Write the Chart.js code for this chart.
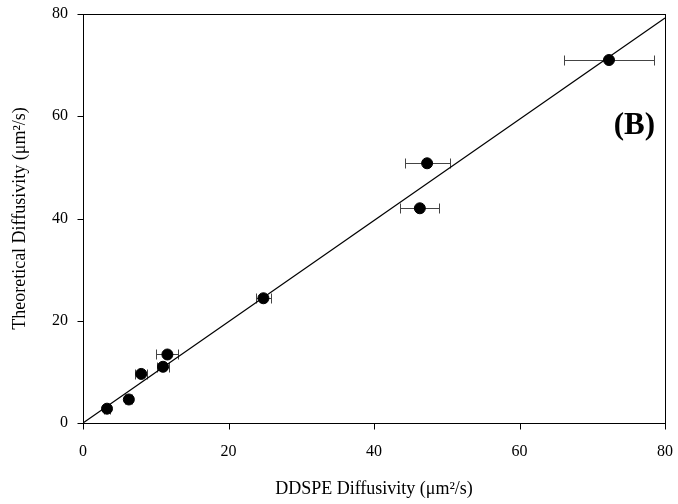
<!DOCTYPE html>
<html>
<head>
<meta charset="utf-8">
<script src="https://cdn.jsdelivr.net/npm/chart.js@4.4.0/dist/chart.umd.min.js"></script>
<style>
    html, body { margin: 0; padding: 0; background: #fff; }
    #wrap { width: 678px; height: 504px; }
</style>
</head>
<body>
<div id="wrap"><canvas id="diffChart" width="678" height="504"></canvas></div>
<script>
// Measured vs. predicted diffusivity (um^2/s)
const ddspeX = [3.3, 6.3, 8.0, 11.0, 11.6, 24.8, 46.3, 47.3, 72.3];
const theoryY = [2.8, 4.6, 9.6, 11.0, 13.4, 24.4, 42.0, 50.8, 71.0];
const ddspeErr = [0.4, 0.5, 0.8, 0.8, 1.5, 1.0, 2.7, 3.1, 6.2];

// Regression line end points
const fitX = [0, 80];
const fitY = [0, 79.2];

const axisTicks = [0, 20, 40, 60, 80];

const serif = "'Liberation Serif', 'Times New Roman', serif";

// horizontal error bars, drawn under the markers
const errorBars = {
    id: 'errorBars',
    beforeDatasetsDraw(chart) {
        const { ctx, scales: { x, y } } = chart;
        ctx.save();
        ctx.strokeStyle = '#444';
        ctx.lineWidth = 1;
        ddspeX.forEach((v, i) => {
            const x0 = Math.round(x.getPixelForValue(v - ddspeErr[i])) + 0.5;
            const x1 = Math.round(x.getPixelForValue(v + ddspeErr[i])) + 0.5;
            const py = Math.round(y.getPixelForValue(theoryY[i])) + 0.5;
            ctx.beginPath();
            ctx.moveTo(x0, py); ctx.lineTo(x1, py);
            ctx.moveTo(x0, py - 5); ctx.lineTo(x0, py + 5);
            ctx.moveTo(x1, py - 5); ctx.lineTo(x1, py + 5);
            ctx.stroke();
        });
        ctx.restore();
    }
};

// box round the plot, outward tick marks and the panel letter
const frame = {
    id: 'frame',
    afterDraw(chart) {
        const { ctx, chartArea: a, scales: { x, y } } = chart;
        const l = Math.round(a.left) + 0.5, t = Math.round(a.top) + 0.5;
        const r = Math.round(a.right) + 0.5, b = Math.round(a.bottom) + 0.5;
        ctx.save();
        ctx.strokeStyle = '#000';
        ctx.lineWidth = 1;
        ctx.strokeRect(l, t, r - l, b - t);
        ctx.beginPath();
        axisTicks.forEach(v => {
            const px = Math.round(x.getPixelForValue(v)) + 0.5;
            ctx.moveTo(px, b); ctx.lineTo(px, b + 6);
            const py = Math.round(y.getPixelForValue(v)) + 0.5;
            ctx.moveTo(l, py); ctx.lineTo(l - 6, py);
        });
        ctx.stroke();
        ctx.fillStyle = '#000';
        ctx.font = 'bold 31px ' + serif;
        ctx.textAlign = 'right';
        ctx.textBaseline = 'middle';
        ctx.fillText('(B)', a.right - 10, 126);
        ctx.restore();
    }
};

// keep label overflow from shifting the plot area
const noOverflow = s => {
    s.paddingTop = 0; s.paddingBottom = 0;
    s.paddingLeft = 0; s.paddingRight = 0;
};

new Chart(document.getElementById('diffChart'), {
    type: 'scatter',
    data: {
        datasets: [
            {
                type: 'line',
                data: fitX.map((v, i) => ({ x: v, y: fitY[i] })),
                borderColor: '#000',
                borderWidth: 1.2,
                pointRadius: 0,
                fill: false
            },
            {
                data: ddspeX.map((v, i) => ({ x: v, y: theoryY[i] })),
                backgroundColor: '#000',
                borderColor: '#000',
                pointRadius: 5.5,
                pointHoverRadius: 5.5
            }
        ]
    },
    options: {
        responsive: false,
        animation: false,
        events: [],
        layout: { padding: { left: 0, top: 14, right: 13, bottom: 0 } },
        plugins: { legend: { display: false }, tooltip: { enabled: false } },
        scales: {
            x: {
                type: 'linear',
                min: 0, max: 80,
                afterBuildTicks: s => { s.ticks = axisTicks.map(v => ({ value: v })); },
                afterFit: s => { s.height = 81; noOverflow(s); },
                border: { display: false },
                grid: { display: false },
                ticks: { color: '#000', font: { family: serif, size: 16 }, padding: 11, maxRotation: 0 },
                title: {
                    display: true,
                    text: 'DDSPE Diffusivity (μm²/s)',
                    color: '#000',
                    font: { family: serif, size: 18 },
                    padding: { top: 14 }
                }
            },
            y: {
                type: 'linear',
                min: 0, max: 80,
                afterBuildTicks: s => { s.ticks = axisTicks.map(v => ({ value: v })); },
                afterFit: s => { s.width = 83; noOverflow(s); },
                border: { display: false },
                grid: { display: false },
                ticks: { color: '#000', font: { family: serif, size: 16 }, padding: 7 },
                title: {
                    display: true,
                    text: 'Theoretical Diffusivity (μm²/s)',
                    color: '#000',
                    font: { family: serif, size: 18 },
                    padding: { top: 9, bottom: 0 }
                }
            }
        }
    },
    plugins: [errorBars, frame]
});
</script>
</body>
</html>
